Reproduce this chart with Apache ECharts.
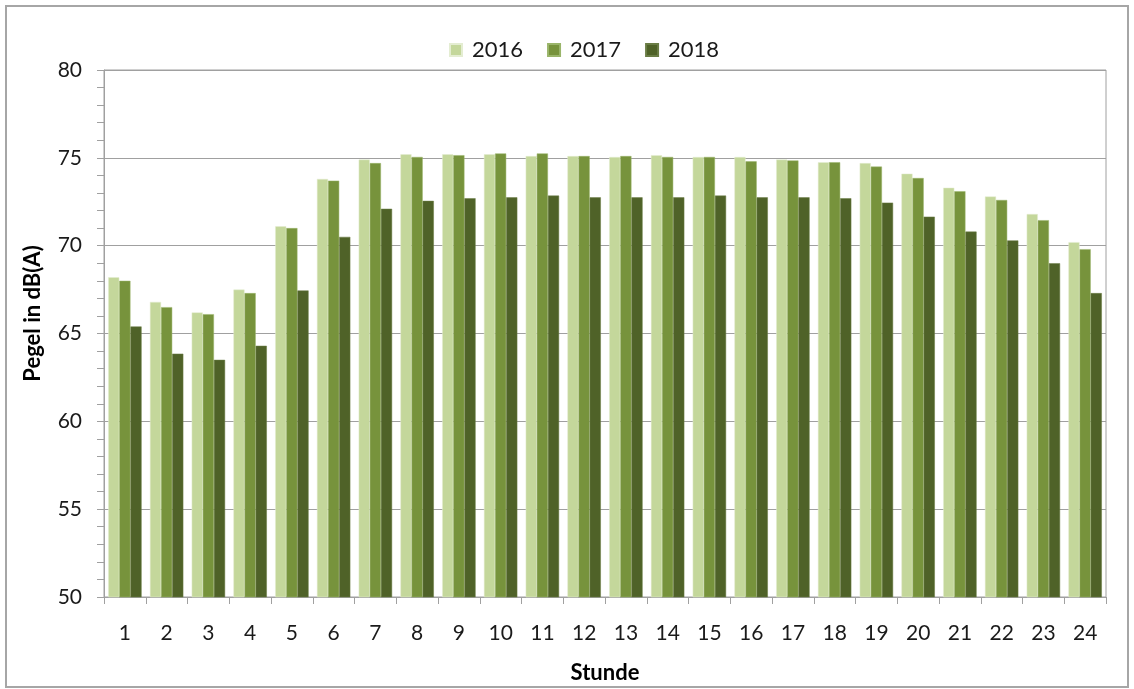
<!DOCTYPE html>
<html>
<head>
<meta charset="utf-8">
<script src="https://cdn.jsdelivr.net/npm/echarts@6/dist/echarts.min.js"></script>
<style>
  html, body { margin: 0; padding: 0; background: #fff; }
  #chart { width: 1134px; height: 689px; }
</style>
</head>
<body>
<div id="chart"></div>
<script>
// Stunden 1..24
var hours = ['1','2','3','4','5','6','7','8','9','10','11','12','13','14','15','16','17','18','19','20','21','22','23','24']
var years = ['2016', '2017', '2018']

// Pegel in dB(A)
var y2016 = [68.2, 66.8, 66.2, 67.5, 71.1, 73.8, 74.9, 75.2, 75.2, 75.2, 75.1, 75.1, 75.05, 75.15, 75.05, 75.05, 74.9, 74.75, 74.7, 74.1, 73.3, 72.8, 71.8, 70.2]
var y2017 = [68.0, 66.5, 66.1, 67.3, 71.0, 73.7, 74.7, 75.05, 75.15, 75.25, 75.25, 75.1, 75.1, 75.05, 75.05, 74.8, 74.85, 74.75, 74.5, 73.85, 73.1, 72.6, 71.45, 69.8]
var y2018 = [65.4, 63.85, 63.5, 64.3, 67.45, 70.5, 72.1, 72.55, 72.7, 72.75, 72.85, 72.75, 72.75, 72.75, 72.85, 72.75, 72.75, 72.7, 72.45, 71.65, 70.8, 70.3, 69.0, 67.3]

var colors = ['#c4d79b', '#77933c', '#4f6228']
var font = 'Lato, "Open Sans", sans-serif'

var chart = echarts.init(document.getElementById('chart'))

chart.setOption({
  animation: false,
  color: colors,
  textStyle: { fontFamily: font },
  graphic: [{
    type: 'rect',
    shape: { x: 6, y: 6, width: 1122, height: 681 },
    style: { fill: 'none', stroke: '#a6a6a6', lineWidth: 2 },
    silent: true
  }],
  legend: {
    top: 34,
    left: 444,
    itemWidth: 12,
    itemHeight: 12,
    itemGap: 24,
    icon: 'rect',
    textStyle: { fontSize: 22, color: '#1a1a1a', fontFamily: font, padding: [0, 0, 0, 5] },
    data: years
  },
  grid: {
    left: 104, right: 28, top: 70, bottom: 92,
    show: true, borderColor: '#a0a0a0', borderWidth: 1
  },
  xAxis: {
    type: 'category',
    data: hours,
    name: 'Stunde',
    nameLocation: 'middle',
    nameGap: 65,
    nameTextStyle: { fontSize: 22, fontWeight: 'bold', color: '#000', fontFamily: font },
    axisLine: { lineStyle: { color: '#a0a0a0', width: 1 } },
    axisTick: { show: true, length: 7, lineStyle: { color: '#a0a0a0' } },
    axisLabel: { fontSize: 21, color: '#1a1a1a', margin: 26 }
  },
  yAxis: {
    type: 'value',
    min: 50,
    max: 80,
    interval: 5,
    name: 'Pegel in dB(A)',
    nameLocation: 'middle',
    nameGap: 60,
    nameTextStyle: { fontSize: 22, fontWeight: 'bold', color: '#000', fontFamily: font, padding: [0, 0, 0, 40] },
    axisLine: { show: true, lineStyle: { color: '#a0a0a0', width: 1 } },
    axisTick: { show: true, length: 7, lineStyle: { color: '#a0a0a0' } },
    minorTick: { show: true, splitNumber: 5, length: 7, lineStyle: { color: '#a0a0a0' } },
    splitLine: { lineStyle: { color: '#a0a0a0', width: 1 } },
    axisLabel: { fontSize: 21, color: '#1a1a1a', margin: 22 }
  },
  series: [
    { name: '2016', type: 'bar', data: y2016, barGap: '0%', barCategoryGap: '20%',
      itemStyle: { borderColor: '#e4edd2', borderWidth: 0.5 } },
    { name: '2017', type: 'bar', data: y2017,
      itemStyle: { borderColor: '#9ab56a', borderWidth: 0.5 } },
    { name: '2018', type: 'bar', data: y2018,
      itemStyle: { borderColor: '#6a7d45', borderWidth: 0.5 } }
  ]
})
</script>
</body>
</html>
